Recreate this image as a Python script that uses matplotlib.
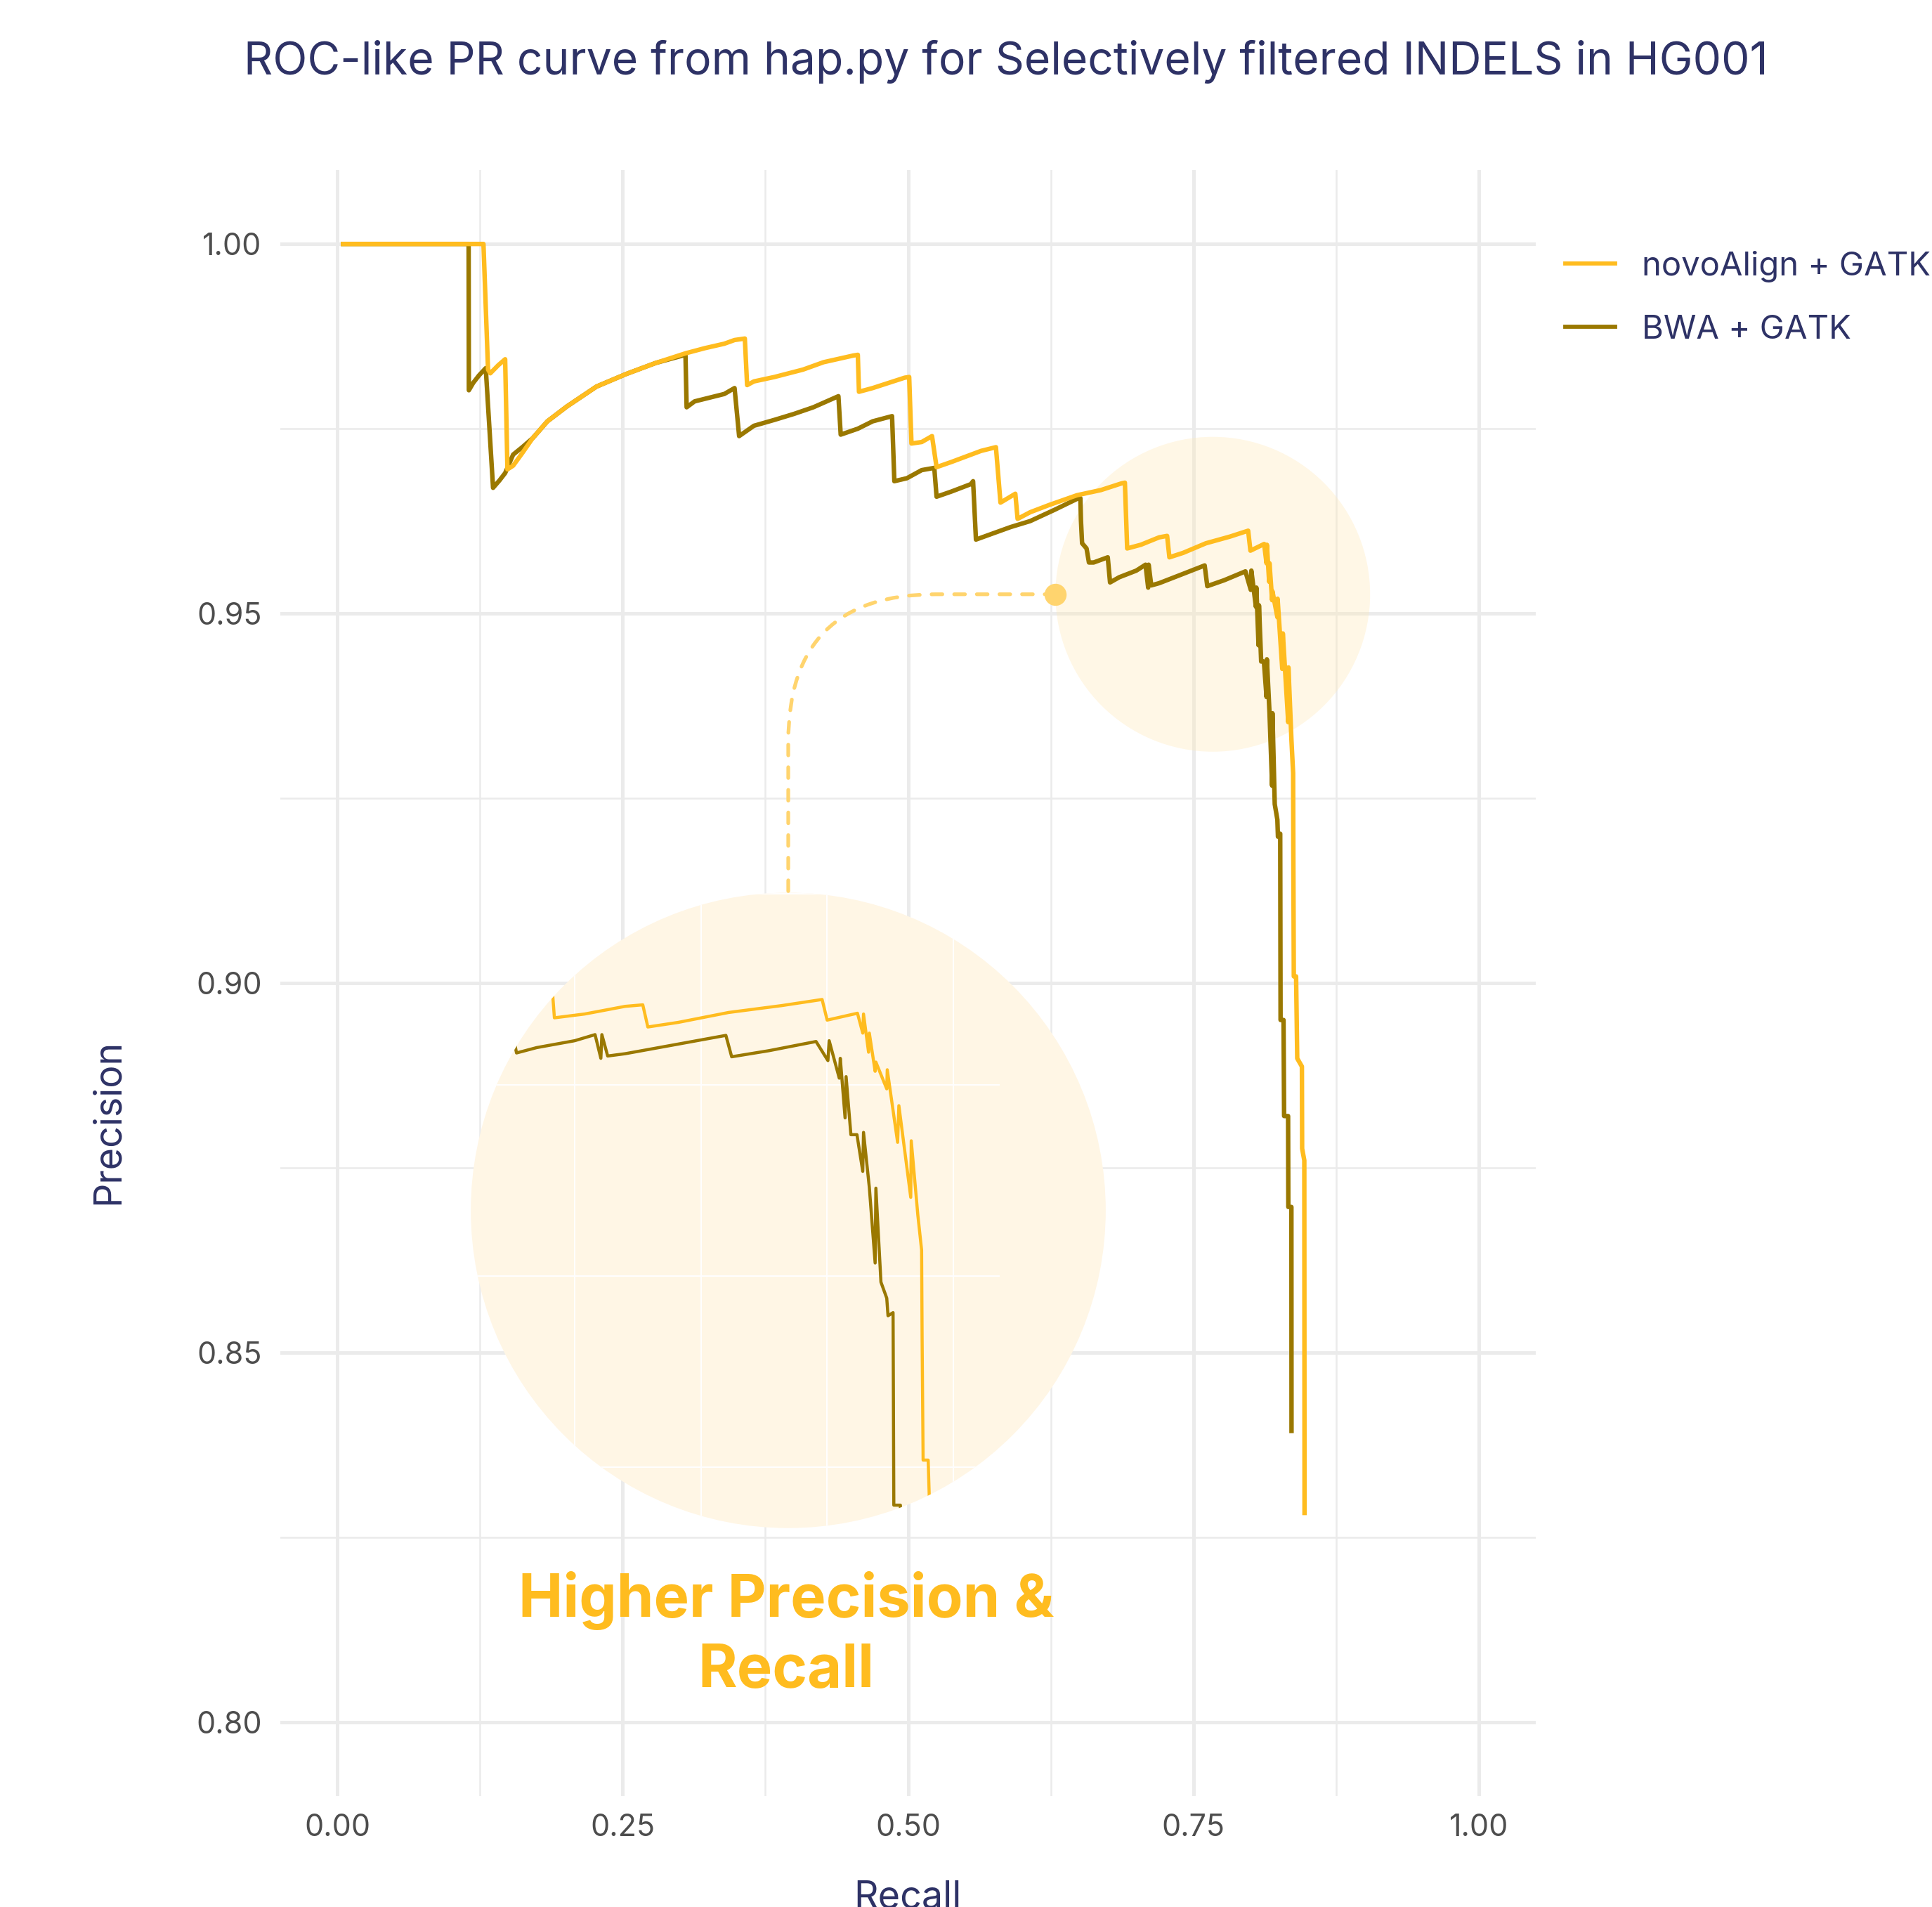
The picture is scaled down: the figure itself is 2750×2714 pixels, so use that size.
import numpy as np
import matplotlib.pyplot as plt
from matplotlib.patches import Ellipse, Circle, FancyArrowPatch
from matplotlib.lines import Line2D
from matplotlib.ticker import FormatStrFormatter

plt.rcParams['font.family'] = ['Inter', 'DejaVu Sans']

# ---- data (recall, precision vertices) ----
novo_recall = [0.005, 0.128, 0.132, 0.134, 0.141, 0.147, 0.149, 0.154, 0.162, 0.171,
               0.184, 0.201, 0.227, 0.253, 0.279, 0.305, 0.322, 0.339, 0.348, 0.357,
               0.359, 0.365, 0.383, 0.408, 0.426, 0.452, 0.456, 0.457, 0.469, 0.497,
               0.501, 0.503, 0.512, 0.521, 0.525, 0.538, 0.564, 0.577, 0.581, 0.594,
               0.596, 0.607, 0.624, 0.648, 0.669, 0.687, 0.690, 0.692, 0.704, 0.720,
               0.727, 0.729, 0.741, 0.761, 0.782, 0.798, 0.800, 0.812, 0.8141, 0.8144,
               0.8164, 0.8167, 0.8190, 0.8193, 0.8236, 0.8238, 0.8279, 0.8284, 0.8331, 0.8333,
               0.8359, 0.8374, 0.8376, 0.8380, 0.8400, 0.8410, 0.8451, 0.8453, 0.8472, 0.8474]
novo_precision = [1.000, 1.000, 0.9830, 0.9825, 0.9836, 0.9844, 0.9695, 0.9700, 0.9717, 0.9737,
                  0.9760, 0.9780, 0.9807, 0.9824, 0.9839, 0.9852, 0.9859, 0.9865, 0.9870, 0.9872,
                  0.9809, 0.9814, 0.9820, 0.9830, 0.9840, 0.9849, 0.9850, 0.9800, 0.9805, 0.9819,
                  0.9820, 0.9730, 0.9732, 0.9740, 0.9698, 0.9705, 0.9720, 0.9725, 0.9650, 0.9662,
                  0.9628, 0.9637, 0.9647, 0.9660, 0.9667, 0.9676, 0.9677, 0.9588, 0.9593, 0.9603,
                  0.9605, 0.9576, 0.9582, 0.9595, 0.9604, 0.9612, 0.9585, 0.9594, 0.9568, 0.9593,
                  0.9543, 0.9568, 0.9518, 0.9530, 0.9495, 0.9520, 0.9425, 0.9473, 0.9353, 0.9427,
                  0.9330, 0.9284, 0.9168, 0.9009, 0.9009, 0.8898, 0.8887, 0.8776, 0.8760, 0.8283]

bwa_recall = [0.005, 0.115, 0.1152, 0.119, 0.124, 0.130, 0.1364, 0.142, 0.147, 0.154,
              0.162, 0.171, 0.184, 0.201, 0.227, 0.253, 0.279, 0.305, 0.306, 0.313,
              0.326, 0.339, 0.348, 0.352, 0.365, 0.383, 0.400, 0.417, 0.439, 0.441,
              0.456, 0.469, 0.486, 0.488, 0.499, 0.512, 0.523, 0.525, 0.538, 0.555,
              0.557, 0.5595, 0.572, 0.590, 0.607, 0.628, 0.648, 0.651, 0.6515, 0.6525,
              0.6564, 0.6585, 0.6626, 0.675, 0.677, 0.685, 0.700, 0.7081, 0.7104, 0.7108,
              0.7131, 0.720, 0.740, 0.7599, 0.7622, 0.777, 0.7956, 0.8003, 0.8008, 0.8048,
              0.8052, 0.8071, 0.8075, 0.8094, 0.8118, 0.8141, 0.8144, 0.8167, 0.8190, 0.8193,
              0.8213, 0.8236, 0.8241, 0.8261, 0.8264, 0.8290, 0.8295, 0.8330, 0.8332, 0.8359,
              0.8360]
bwa_precision = [1.000, 1.000, 0.9802, 0.9812, 0.9822, 0.9832, 0.9670, 0.9680, 0.9690, 0.9715,
                 0.9725, 0.9737, 0.9760, 0.9780, 0.9807, 0.9824, 0.9839, 0.9850, 0.9779, 0.9787,
                 0.9792, 0.9797, 0.9805, 0.9740, 0.9754, 0.9762, 0.9770, 0.9779, 0.9794, 0.9742,
                 0.9750, 0.9760, 0.9767, 0.9679, 0.9683, 0.9694, 0.9697, 0.9658, 0.9665, 0.9675,
                 0.9679, 0.9600, 0.9607, 0.9617, 0.9625, 0.9640, 0.9655, 0.9656, 0.9626, 0.9595,
                 0.9588, 0.9569, 0.9569, 0.9576, 0.9542, 0.9549, 0.9558, 0.9566, 0.9535, 0.9566,
                 0.9538, 0.9541, 0.9553, 0.9565, 0.9537, 0.9545, 0.9557, 0.9532, 0.9558, 0.9509,
                 0.9535, 0.9457, 0.9511, 0.9435, 0.9435, 0.9387, 0.9438, 0.9366, 0.9267, 0.9365,
                 0.9242, 0.9221, 0.9198, 0.9202, 0.8950, 0.8950, 0.8820, 0.8820, 0.8697, 0.8697,
                 0.8394]

series_labels = ['novoAlign + GATK', 'BWA + GATK']

x_major = [0.0, 0.25, 0.5, 0.75, 1.0]
x_minor = [0.125, 0.375, 0.625, 0.875]
y_major = [0.80, 0.85, 0.90, 0.95, 1.00]
y_minor = [0.825, 0.875, 0.925, 0.975]

# ---- styling ----
NOVO = '#FFBC1F'
BWA = '#9A7800'
NAVY = '#2E3266'
GRID = '#EBEBEB'
CREAM = '#FFF6E5'
DASH = '#FFD46E'

W, H, DPI = 2750, 2714, 200
fig = plt.figure(figsize=(W / DPI, H / DPI), dpi=DPI)


def px_box(x0, y0, x1, y1):
    return [x0 / W, 1 - y1 / H, (x1 - x0) / W, (y1 - y0) / H]


ax = fig.add_axes(px_box(399, 242, 2186, 2556))
ax.set_xlim(-0.05, 1.05)
ax.set_ylim(0.79, 1.01)
for s in ax.spines.values():
    s.set_visible(False)
ax.set_xticks(x_major)
ax.set_xticks(x_minor, minor=True)
ax.set_yticks(y_major)
ax.set_yticks(y_minor, minor=True)
ax.xaxis.set_major_formatter(FormatStrFormatter('%.2f'))
ax.yaxis.set_major_formatter(FormatStrFormatter('%.2f'))
ax.grid(which='major', color=GRID, lw=1.8)
ax.grid(which='minor', color=GRID, lw=0.9)
ax.set_axisbelow(True)
ax.tick_params(which='both', length=0, labelsize=15.5, labelcolor='#4D4D4D')
ax.tick_params(axis='x', pad=9)
ax.tick_params(axis='y', pad=9.5)

# source region (magnified area)
src_cx, src_cy, src_w, src_h = 0.767, 0.9526, 0.2757, 0.0426
ax.add_patch(Ellipse((src_cx, src_cy), src_w, src_h, fc='#FFE9B8', alpha=0.35,
                     ec='none', zorder=1))

ax.plot(bwa_recall, bwa_precision, color=BWA, lw=2.3, zorder=3)
ax.plot(novo_recall, novo_precision, color=NOVO, lw=2.3, zorder=4)

# inset (magnified view)
inset_box = [0.1169, 0.82625, 0.5563, 0.08597]
axin = ax.inset_axes(inset_box, transform=ax.transData)
axin.set_xlim(0.6589, 0.9103)
axin.set_ylim(0.8920, 0.97518)
axin.axis('off')
disc = Circle((0.5, 0.5), 0.5, transform=axin.transAxes, fc=CREAM, ec='none', zorder=0)
axin.add_patch(disc)
for gx in [0.70, 0.75, 0.80, 0.85]:
    ln = axin.axvline(gx, color='white', lw=0.7, zorder=1)
    ln.set_clip_path(disc)
for gy in [0.975, 0.95, 0.925, 0.90]:
    ln = axin.axhline(gy, xmin=0.011, xmax=0.832, color='white', lw=0.7, zorder=1)
    ln.set_clip_path(disc)
for rx, ry, col, z in [(bwa_recall, bwa_precision, BWA, 3), (novo_recall, novo_precision, NOVO, 4)]:
    ln, = axin.plot(rx, ry, color=col, lw=1.6, zorder=z)
    ln.set_clip_path(disc)

# connector from source to inset
posA = (src_cx - src_w / 2, src_cy)
posB = (inset_box[0] + inset_box[2] / 2, inset_box[1] + inset_box[3])
conn = FancyArrowPatch(posA, posB, arrowstyle='-', connectionstyle='angle,angleA=0,angleB=90,rad=210',
                       color=DASH, lw=1.9, linestyle=(0, (2.9, 3.2)), shrinkA=0, shrinkB=0,
                       transform=ax.transData, zorder=6)
ax.add_patch(conn)
ax.plot([posA[0]], [posA[1]], 'o', ms=10.3, color=DASH, zorder=7)

ax.text(0.393, 0.8118, 'Higher Precision &\nRecall', ha='center', va='center',
        fontsize=30.5, fontweight='bold', color=NOVO, linespacing=1.3)

# legend
handles = [Line2D([], [], color=NOVO, lw=2.1), Line2D([], [], color=BWA, lw=2.1)]
fig.legend(handles, series_labels, loc='upper left', bbox_to_anchor=(2228 / W, 1 - 357 / H),
           frameon=False, fontsize=17, handlelength=1.5, handletextpad=0.8,
           labelspacing=0.97, borderpad=0, borderaxespad=0, labelcolor=NAVY)

fig.text(1432 / W, 1 - 106 / H, 'ROC-like PR curve from hap.py for Selectively filtered INDELS in HG001',
         ha='center', va='baseline', fontsize=23.1, color=NAVY)
fig.text(154 / W, 1 - 1596 / H, 'Precision', rotation=90, ha='center', va='center',
         fontsize=19.4, color=NAVY)
fig.text(1292 / W, 1 - 2676 / H, 'Recall', ha='center', va='top', fontsize=19.4, color=NAVY)

fig.savefig('out.png', dpi=DPI)
